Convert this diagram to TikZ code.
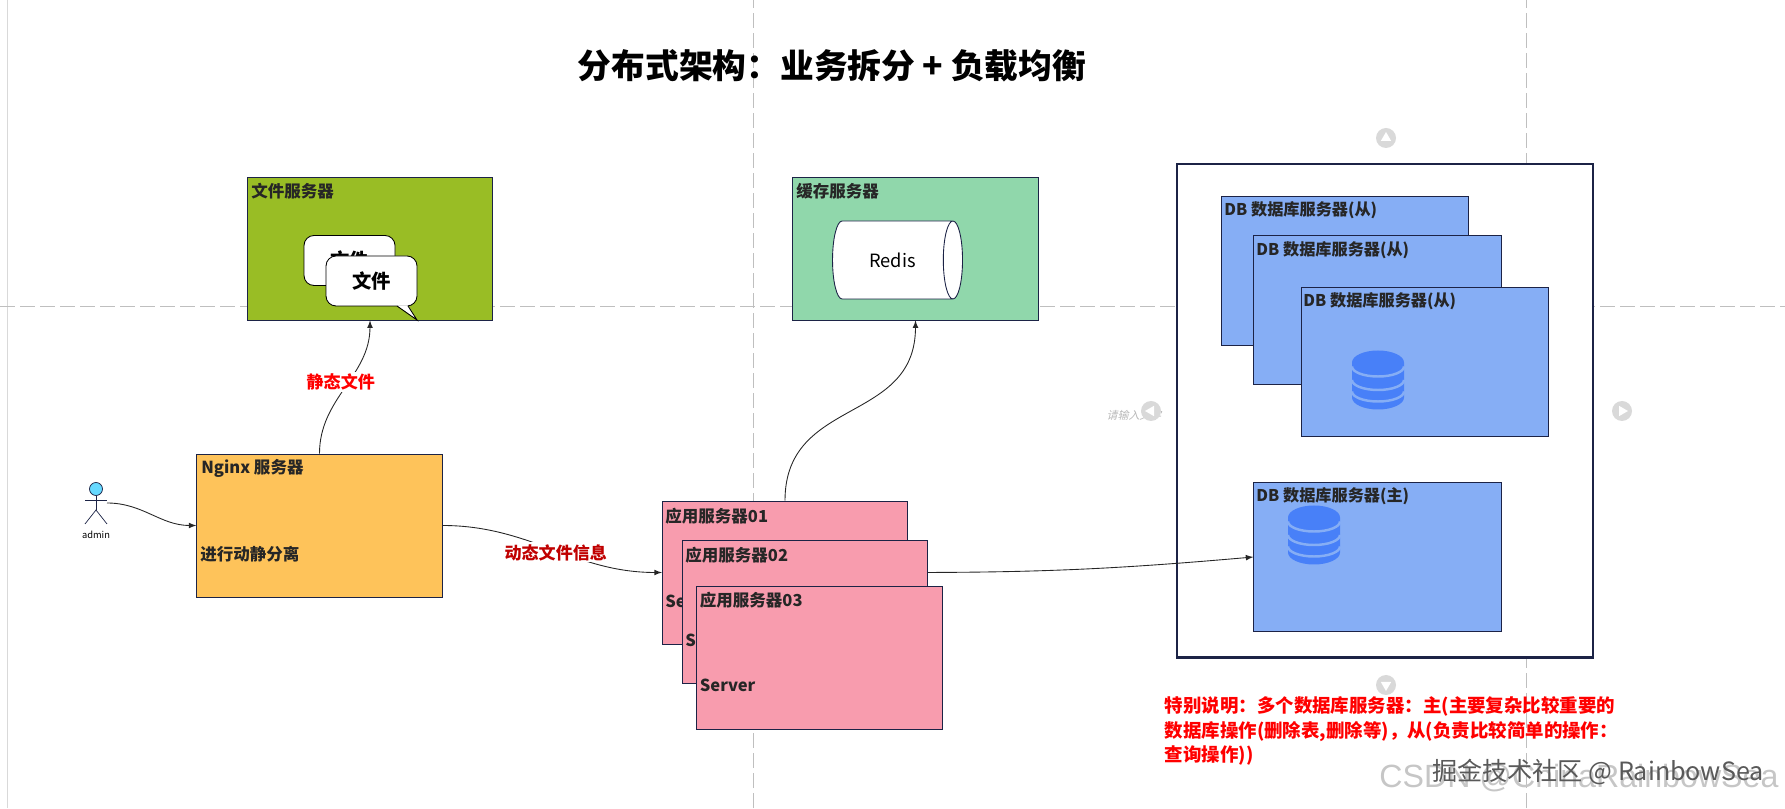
\documentclass[tikz,border=0pt]{standalone}
\usepackage{fontspec}
\setmainfont{Noto Sans CJK SC}
\newfontfamily\markfont{Liberation Sans}
\usepackage{tikz}
\usetikzlibrary{shapes.geometric}
\definecolor{framenavy}{HTML}{1C2346}
\definecolor{filegreen}{HTML}{99BD25}
\definecolor{nginxorange}{HTML}{FEC35A}
\definecolor{redisgreen}{HTML}{90D7AB}
\definecolor{apppink}{HTML}{F89CAE}
\definecolor{dbfill}{HTML}{86AEF5}
\definecolor{dbicon}{HTML}{4880F8}
\definecolor{dynred}{HTML}{C00000}
\definecolor{handlegray}{HTML}{D9D9D9}
\definecolor{actorblue}{HTML}{66D9FF}
\tikzset{
  srvbox/.style={rectangle,draw=framenavy,line width=0.45pt,minimum width=4.91cm,minimum height=2.86cm,inner sep=0},
  dbbox/.style={rectangle,draw=framenavy,line width=0.45pt,fill=dbfill,minimum width=4.95cm,minimum height=2.99cm,inner sep=0},
  boxtext/.style={anchor=west,inner sep=0,text=black!85,font=\fontsize{9.4}{11}\selectfont\bfseries},
  dbtext/.style={anchor=west,inner sep=0,text=black!85,font=\fontsize{9.2}{11}\selectfont\bfseries},
  redlabel/.style={fill=white,inner sep=1pt,font=\fontsize{9.7}{11}\selectfont\bfseries},
  conn/.style={-latex,black!85,line width=0.5pt},
  guide/.style={gray!50,line width=0.5pt,dash pattern=on 0.3cm off 0.1cm},
  handle/.style={circle,fill=handlegray,minimum size=0.4cm,inner sep=0},
  handlemark/.style={regular polygon,regular polygon sides=3,fill=white,minimum size=0.24cm,inner sep=0},
  bubble/.style={rectangle,rounded corners=0.2cm,draw=black,line width=0.5pt,fill=white,minimum width=1.82cm,minimum height=1cm,inner sep=0,font=\fontsize{11}{13}\selectfont\bfseries},
  dbstack/.pic={
    \fill[dbicon] (-0.52,0.35) arc[start angle=180,end angle=0,x radius=0.52,y radius=0.24] -- (0.52,-0.35) arc[start angle=0,end angle=-180,x radius=0.52,y radius=0.24] -- cycle;
    \draw[dbfill,line width=1.4pt] (-0.52,0.27) arc[start angle=180,end angle=360,x radius=0.52,y radius=0.2];
    \draw[dbfill,line width=1.4pt] (-0.52,0) arc[start angle=180,end angle=360,x radius=0.52,y radius=0.2];
    \draw[dbfill,line width=1.4pt] (-0.52,-0.23) arc[start angle=180,end angle=360,x radius=0.52,y radius=0.2];
  }
}

\begin{document}
\begin{tikzpicture}

\useasboundingbox (0,0) rectangle (35.7,16.16);

\draw[gray!30,line width=0.5pt] (0.14,0)--(0.14,16.16);
\draw[guide] (15.06,0)--(15.06,16.16);
\draw[guide] (30.52,0)--(30.52,16.16);
\draw[guide] (0,10.04)--(35.7,10.04);

\node (title) at (16.64,14.84) {\fontsize{19.2}{22}\selectfont\bfseries 分布式架构：业务拆分 + 负载均衡};

\node (hint) [text=gray!55,xslant=0.25,transform shape,font=\fontsize{6.2}{8}\selectfont] at (22.7,7.86) {请输入文字};
\node (hup) [handle] at (27.72,13.40) {};
\node (hleft) [handle] at (23.02,7.94) {};
\node (hright) [handle] at (32.44,7.94) {};
\node (hdown) [handle] at (27.72,2.46) {};
\node (hupmark) [handlemark] at (hup) {};
\node (hleftmark) [handlemark,shape border rotate=90] at (hleft) {};
\node (hrightmark) [handlemark,shape border rotate=-90] at (hright) {};
\node (hdownmark) [handlemark,shape border rotate=180] at (hdown) {};

\node (filebox) [srvbox,fill=filegreen] at (7.40,11.19) {};
\node (filetitle) [boxtext] at (5.02,12.34) {文件服务器};
\node (fileback) [bubble] at (6.99,10.95) {文件};
\node (filefront) [bubble] at (7.43,10.54) {文件};
\coordinate (tailtip) at (8.34,9.76);
\fill[white] (7.94,10.05)--(tailtip)--(8.16,10.05)--cycle;
\draw[black,line width=0.5pt] (7.94,10.04)--(tailtip)--(8.16,10.04);

\node (redisbox) [srvbox,fill=redisgreen] at (18.31,11.19) {};
\node (redistitle) [boxtext] at (15.92,12.34) {缓存服务器};
\node (redis) [cylinder,draw=framenavy,line width=0.5pt,fill=white,minimum height=2.6cm,minimum width=1.56cm,shape aspect=1.3,inner sep=0,font=\fontsize{10.4}{12}\selectfont] at (17.85,10.96) {Redis};

\node (nginx) [srvbox,fill=nginxorange] at (6.39,5.65) {};
\node (nginxtitle) [boxtext] at (4.02,6.80) {Nginx 服务器};
\node (nginxsub) [boxtext] at (4.00,5.08) {进行动静分离};

\node (head) [circle,draw=framenavy,line width=0.4pt,fill=actorblue,minimum size=0.26cm,inner sep=0] at (1.92,6.38) {};
\coordinate (hip) at (1.92,5.96);
\coordinate (handl) at (1.70,6.16);
\coordinate (handr) at (2.14,6.16);
\coordinate (footl) at (1.70,5.68);
\coordinate (footr) at (2.14,5.68);
\coordinate (admout) at (2.14,6.10);
\draw[framenavy,line width=0.4pt] (head)--(hip);
\draw[framenavy,line width=0.4pt] (handl)--(handr);
\draw[framenavy,line width=0.4pt] (footl)--(hip)--(footr);
\node (admin) [font=\fontsize{5.3}{6}\selectfont,inner sep=0] at (1.92,5.46) {admin};

\draw[conn] (admout) to[out=0,in=180] (nginx.west);
\draw[conn] (nginx.north) to[out=90,in=-90] node[redlabel,text=red,pos=0.54,xshift=-0.14cm] (statlabel) {静态文件} (filebox.south);

\node (app1) [srvbox,fill=apppink] at (15.70,4.71) {};
\node (app1title) [boxtext] at (13.30,5.84) {应用服务器01};
\node (app1sub) [boxtext] at (13.30,4.14) {Server};
\draw[conn] (nginx.east) to[out=0,in=180] node[redlabel,text=dynred,midway,xshift=0.07cm,yshift=-0.07cm] (dynlabel) {动态文件信息} (app1.west);
\draw[conn] (app1.north) to[out=90,in=-90,looseness=1.2] (redisbox.south);

\node (dbgroup) [rectangle,draw=framenavy,line width=1.2pt,fill=white,minimum width=8.32cm,minimum height=9.87cm,inner sep=0] at (27.70,7.945) {};

\node (db1) [dbbox] at (26.90,10.745) {};
\node (db1title) [dbtext] at (24.48,11.96) {DB 数据库服务器(从)};
\node (db2) [dbbox] at (27.55,9.96) {};
\node (db2title) [dbtext] at (25.12,11.16) {DB 数据库服务器(从)};
\node (db3) [dbbox] at (28.495,8.925) {};
\node (db3title) [dbtext] at (26.06,10.14) {DB 数据库服务器(从)};
\pic at (27.56,8.56) {dbstack};

\node (dbmain) [dbbox] at (27.55,5.02) {};
\node (dbmaintitle) [dbtext] at (25.12,6.24) {DB 数据库服务器(主)};
\pic at (26.28,5.46) {dbstack};

\draw[conn] (app1.east) to[out=0,in=-175] (dbmain.west);

\node (app2) [srvbox,fill=apppink] at (16.10,3.92) {};
\node (app2title) [boxtext] at (13.70,5.06) {应用服务器02};
\node (app2sub) [boxtext] at (13.70,3.36) {Server};
\node (app3) [srvbox,fill=apppink] at (16.39,3.01) {};
\node (app3title) [boxtext] at (13.99,4.16) {应用服务器03};
\node (app3sub) [boxtext] at (13.99,2.46) {Server};

\node (note) [anchor=west,align=left,inner sep=0,text=red,font=\fontsize{10.5}{13.9}\selectfont\bfseries] at (23.29,1.54) {特别说明：多个数据库服务器：主(主要复杂比较重要的\\数据库操作(删除表,删除等)，从(负责比较简单的操作：\\查询操作))};

\node (csdnmark) [text=gray!45,font=\markfont\fontsize{18.3}{20}\selectfont] at (31.58,0.60) {CSDN @ChinaRainbowSea};
\node (juejinmark) [text=black!65,font=\fontsize{14.3}{16}\selectfont] at (31.96,0.72) {掘金技术社区 @ RainbowSea};

\end{tikzpicture}
\end{document}
